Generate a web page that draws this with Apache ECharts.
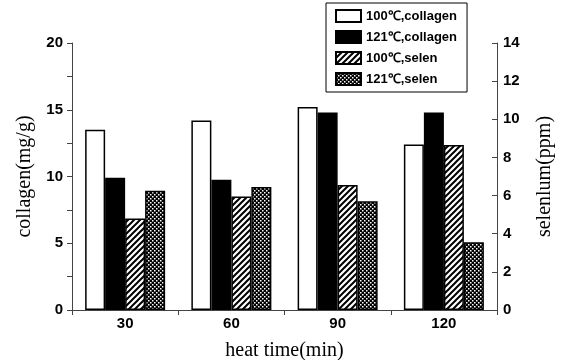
<!DOCTYPE html>
<html><head><meta charset="utf-8">
<script src="https://cdn.jsdelivr.net/npm/echarts@6/dist/echarts.min.js"></script>
<style>html,body{margin:0;padding:0;background:#fff}#c{width:562px;height:360px}</style>
</head><body><div id="c"></div>
<script>
const categories = ['30', '60', '90', '120'];
const collagen100 = [13.5, 14.2, 15.2, 12.4];
const collagen121 = [9.9, 9.75, 14.8, 14.8];
const selen100 = [4.8, 5.95, 6.55, 8.65];
const selen121 = [6.25, 6.45, 5.7, 3.55];
const seriesNames = ['100℃,collagen', '121℃,collagen', '100℃,selen', '121℃,selen'];

function hatchPattern() {
  const c = document.createElement('canvas');
  c.width = 6; c.height = 6;
  const g = c.getContext('2d');
  g.fillStyle = '#fff'; g.fillRect(0, 0, 6, 6);
  g.strokeStyle = '#000'; g.lineWidth = 2;
  g.beginPath();
  g.moveTo(-1, 7); g.lineTo(7, -1);
  g.moveTo(-4, 4); g.lineTo(4, -4);
  g.moveTo(2, 10); g.lineTo(10, 2);
  g.stroke();
  return c;
}
function dotPattern() {
  const c = document.createElement('canvas');
  c.width = 4; c.height = 4;
  const g = c.getContext('2d');
  g.fillStyle = '#000'; g.fillRect(0, 0, 4, 4);
  g.fillStyle = '#fff';
  g.fillRect(0, 0, 1.5, 1.5);
  g.fillRect(2, 2, 1.5, 1.5);
  return c;
}

const chart = echarts.init(document.getElementById('c'), null, {renderer: 'canvas'});
const tickFont = {fontFamily: 'Liberation Sans, Arial, sans-serif', fontWeight: 'bold', fontSize: 15, color: '#000'};
const nameFont = {fontFamily: 'Liberation Serif, Times New Roman, serif', fontSize: 20, color: '#000'};
const axisLine = {show: true, lineStyle: {color: '#444', width: 1}};
const border = {borderColor: '#000', borderWidth: 1.5};

chart.setOption({
  animation: false,
  backgroundColor: '#fff',
  grid: {left: 72, right: 65, top: 43, bottom: 50, containLabel: false, outerBoundsMode: 'none'},
  legend: {
    left: 326, top: 3, orient: 'vertical',
    data: seriesNames,
    icon: 'rect',
    itemWidth: 25, itemHeight: 12, itemGap: 7,
    padding: [6, 10, 6, 9],
    borderColor: '#000', borderWidth: 1,
    backgroundColor: '#fff',
    textStyle: {fontFamily: 'Liberation Sans, Arial, sans-serif', fontWeight: 'bold', fontSize: 13, color: '#000', padding: [0, 0, 0, 0]}
  },
  xAxis: {
    type: 'category', data: categories,
    name: 'heat time(min)', nameLocation: 'middle', nameGap: 31, nameTextStyle: nameFont,
    axisLine: axisLine,
    axisTick: {show: true, length: 5, lineStyle: {color: '#444'}},
    axisLabel: Object.assign({margin: 6}, tickFont)
  },
  yAxis: [{
    type: 'value', min: 0, max: 20, interval: 5,
    name: 'collagen(mg/g)', nameLocation: 'middle', nameGap: 37, nameTextStyle: nameFont,
    axisLine: axisLine,
    axisTick: {show: true, length: 5, lineStyle: {color: '#444'}},
    minorTick: {show: true, splitNumber: 2, length: 5, lineStyle: {color: '#444'}},
    splitLine: {show: false},
    axisLabel: Object.assign({margin: 9}, tickFont)
  }, {
    type: 'value', min: 0, max: 14, interval: 2, position: 'right',
    name: 'selenlum(ppm)', nameLocation: 'middle', nameGap: 38, nameRotate: 90, nameTextStyle: nameFont,
    axisLine: axisLine,
    axisTick: {show: true, inside: true, length: 5, lineStyle: {color: '#444'}},
    splitLine: {show: false},
    axisLabel: Object.assign({margin: 6}, tickFont)
  }],
  series: [
    {name: seriesNames[0], type: 'bar', yAxisIndex: 0, data: collagen100, barWidth: 20, barGap: '0%',
     itemStyle: Object.assign({color: '#fff'}, border)},
    {name: seriesNames[1], type: 'bar', yAxisIndex: 0, data: collagen121, barWidth: 20, barGap: '0%',
     itemStyle: Object.assign({color: '#000'}, border)},
    {name: seriesNames[2], type: 'bar', yAxisIndex: 1, data: selen100, barWidth: 20, barGap: '0%',
     itemStyle: Object.assign({color: {image: hatchPattern(), repeat: 'repeat'}}, border)},
    {name: seriesNames[3], type: 'bar', yAxisIndex: 1, data: selen121, barWidth: 20, barGap: '0%',
     itemStyle: Object.assign({color: {image: dotPattern(), repeat: 'repeat'}}, border)}
  ]
});
</script></body></html>
